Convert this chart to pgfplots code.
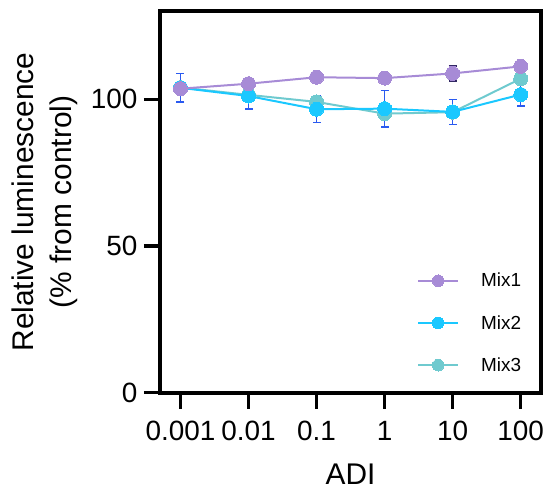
\documentclass[border=0pt]{standalone}
\usepackage{pgfplots}
\pgfplotsset{compat=1.18}
\usepackage{fontspec}
\setmainfont{Liberation Sans}
\definecolor{mixA}{RGB}{167,139,214}
\definecolor{mixB}{RGB}{26,200,255}
\definecolor{mixC}{RGB}{111,202,207}
\definecolor{errB}{RGB}{42,90,240}
\definecolor{errA}{RGB}{50,40,100}
\begin{document}
\begin{tikzpicture}
\begin{axis}[
  scale only axis, width=381.2bp, height=381.6bp,
  xmode=log, xmin=0.0005, xmax=200, ymin=0, ymax=130,
  xtick={0.001,0.01,0.1,1,10,100}, xticklabels={0.001,0.01,0.1,1,10,100},
  ytick={0,50,100},
  xminorticks=false, yminorticks=false,
  xtick pos=lower, ytick pos=left,
  tick align=outside, major tick length=16bp,
  tick style={line width=3.3bp, black},
  axis line style={line width=4bp},
  tick label style={font=\fontsize{28}{28}\selectfont},
  xticklabel style={yshift=-9bp},
  yticklabel style={xshift=-3bp},
  /pgf/number format/assume math mode=true,
  label style={font=\fontsize{30}{38}\selectfont},
  xlabel={ADI},
  ylabel={Relative luminescence\\(\% from control)},
  ylabel style={align=center, at={(axis description cs:-0.3017,0.5)}, anchor=center},
  xlabel style={at={(axis description cs:0.5,-0.2416)}, anchor=base},
  legend style={draw=none, fill=none, inner sep=0pt, at={(axis description cs:0.674,0.314)}, anchor=north west, font=\fontsize{19}{19}\selectfont, row sep=27bp, nodes={inner sep=0pt}, /tikz/every odd column/.append style={column sep=22bp}},
  legend cell align=left,
  reverse legend,
  legend image code/.code={\draw[#1] (0bp,0bp) -- (40bp,0bp); \draw[#1, only marks, mark size=5.8bp] plot coordinates {(20bp,0bp)};},
]
\addplot[color=mixC, line width=2bp, mark=*, mark size=7bp, mark options={draw=mixC, fill=mixC, line width=0pt}] table {
x y
0.001 104.0
0.01 101.5
0.1 99.1
1 95.1
10 95.6
100 107.0
};
\addlegendentry{Mix3}
\addplot[color=mixB, line width=2bp, mark=*, mark size=7bp, mark options={draw=mixB, fill=mixB, line width=0pt},
  error bars/.cd, y dir=both, y explicit,
  error bar style={line width=1.5bp, color=errB},
  error mark options={rotate=90, mark size=4bp, line width=1.5bp, color=errB}] table[x=x, y=y, y error=e] {
x y e
0.001 103.9 4.8
0.01 101.1 4.4
0.1 96.6 4.5
1 96.8 6.2
10 95.7 4.3
100 101.6 3.9
};
\addlegendentry{Mix2}
\addplot[color=mixA, line width=2bp, mark=*, mark size=7bp, mark options={draw=mixA, fill=mixA, line width=0pt},
  error bars/.cd, y dir=both, y explicit,
  error bar style={line width=1.5bp, color=errA},
  error mark options={rotate=90, mark size=4bp, line width=1.5bp, color=errA}] table[x=x, y=y, y error=e] {
x y e
0.001 103.6 0.8
0.01 105.3 0.8
0.1 107.5 0.8
1 107.2 0.8
10 108.8 2.6
100 111.2 1.2
};
\addlegendentry{Mix1}
\end{axis}
\pgfresetboundingbox
\path[use as bounding box] (-160bp,-98.2bp) rectangle (387bp,392.8bp);
\end{tikzpicture}
\end{document}
